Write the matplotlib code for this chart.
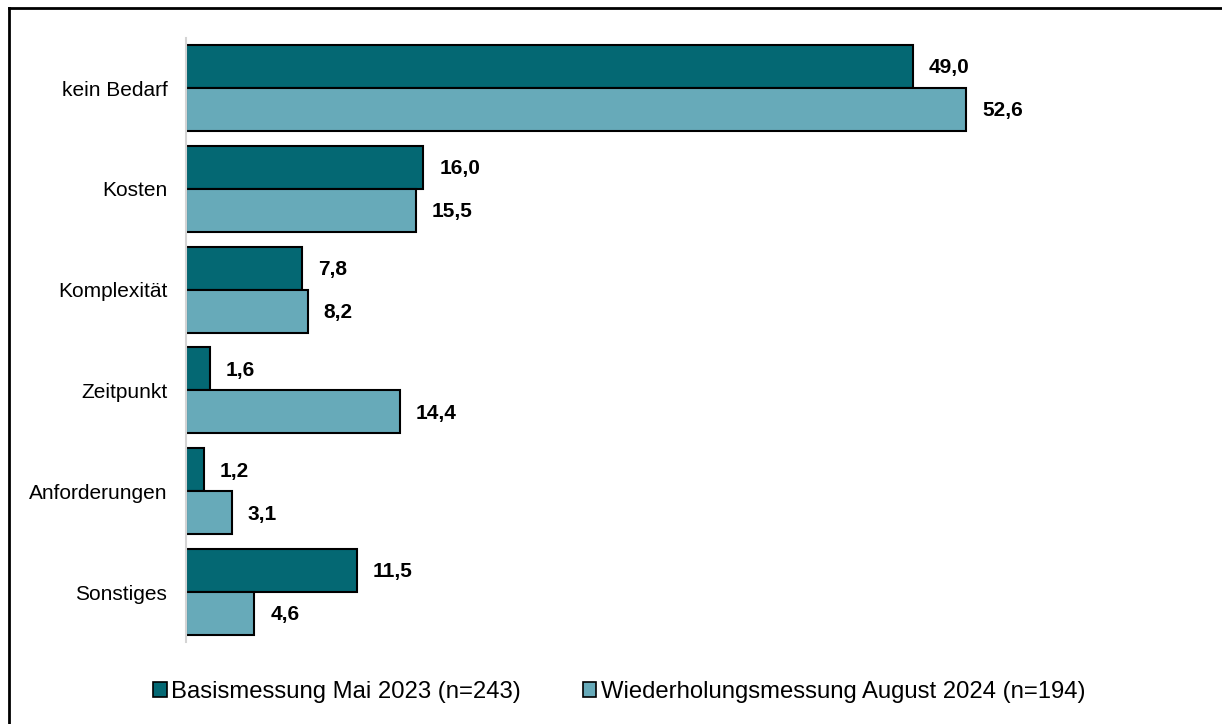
import matplotlib
matplotlib.use('Agg')
import matplotlib.pyplot as plt
from matplotlib.patches import Patch
from matplotlib.lines import Line2D
import numpy as np

categories = ['kein Bedarf', 'Kosten', 'Komplexität', 'Zeitpunkt',
              'Anforderungen', 'Sonstiges']
basis_2023 = [49.0, 16.0, 7.8, 1.6, 1.2, 11.5]
wdh_2024 = [52.6, 15.5, 8.2, 14.4, 3.1, 4.6]
series_names = ['Basismessung Mai 2023 (n=243)',
                'Wiederholungsmessung August 2024 (n=194)']

dark = '#046873'
light = '#67aab9'

plt.rcParams['font.family'] = ['Liberation Sans', 'DejaVu Sans']

fig = plt.figure(figsize=(12.22, 7.24), dpi=100)
ax = fig.add_axes([186/1222, 1-642.4/724, (1076-186)/1222, (642.4-37.6)/724])

y = np.arange(len(categories))
h = 0.427
ax.barh(y - h/2, basis_2023, height=h, color=dark, edgecolor='black',
        linewidth=1.5, label=series_names[0])
ax.barh(y + h/2, wdh_2024, height=h, color=light, edgecolor='black',
        linewidth=1.5, label=series_names[1])

for yy, v in zip(y - h/2, basis_2023):
    ax.annotate(f'{v:.1f}'.replace('.', ','), (v, yy), xytext=(11.5, -1),
                textcoords='offset points', va='center', ha='left',
                fontsize=15, fontweight='bold')
for yy, v in zip(y + h/2, wdh_2024):
    ax.annotate(f'{v:.1f}'.replace('.', ','), (v, yy), xytext=(11.5, -1),
                textcoords='offset points', va='center', ha='left',
                fontsize=15, fontweight='bold')

ax.set_xlim(0, 60)
ax.set_ylim(len(categories) - 0.5, -0.5)
ax.set_yticks(y)
ax.set_yticklabels(categories, fontsize=15)
ax.tick_params(axis='y', length=0, pad=13.5)
ax.set_xticks([])
for s in ['top', 'right', 'bottom']:
    ax.spines[s].set_visible(False)
ax.spines['left'].set_color('#d4d4d4')
ax.spines['left'].set_linewidth(1.5)

handles = [Patch(facecolor=dark, edgecolor='black', linewidth=1.2),
           Patch(facecolor=light, edgecolor='black', linewidth=1.2)]
fig.legend(handles, series_names, loc='center', bbox_to_anchor=(0.507, 1-692/724),
           ncol=2, frameon=False, fontsize=17.2, handlelength=0.55,
           handleheight=0.55, handletextpad=0.2, columnspacing=2.6)

# outer frame (only top and left edges fall inside the image)
fig.add_artist(Line2D([9/1222, 1.0], [1-8/724, 1-8/724], color='black',
                      linewidth=2, transform=fig.transFigure))
fig.add_artist(Line2D([9/1222, 9/1222], [1-8/724, 0.0], color='black',
                      linewidth=2, transform=fig.transFigure))

fig.savefig('out.png', dpi=100)
